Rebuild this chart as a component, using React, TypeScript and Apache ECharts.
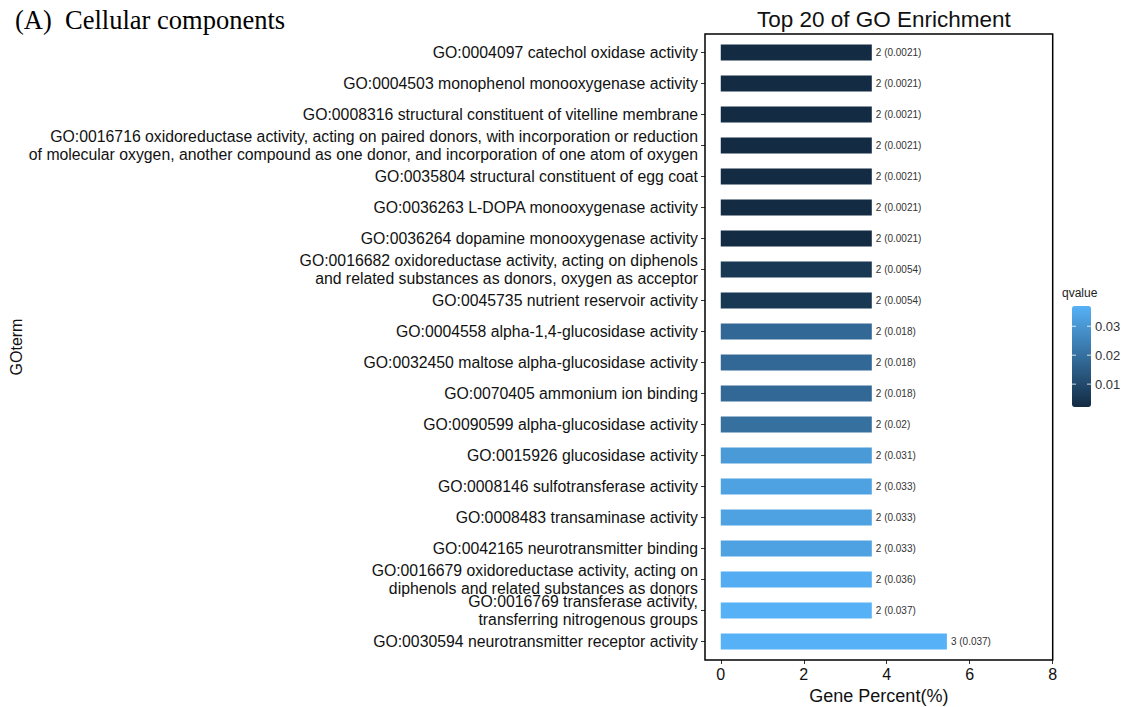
import React, { useEffect, useRef } from "react";
import * as echarts from "echarts";

// GO terms, top to bottom
const terms: string[] = [
  "GO:0004097 catechol oxidase activity",
  "GO:0004503 monophenol monooxygenase activity",
  "GO:0008316 structural constituent of vitelline membrane",
  "GO:0016716 oxidoreductase activity, acting on paired donors, with incorporation or reduction\nof molecular oxygen, another compound as one donor, and incorporation of one atom of oxygen",
  "GO:0035804 structural constituent of egg coat",
  "GO:0036263 L-DOPA monooxygenase activity",
  "GO:0036264 dopamine monooxygenase activity",
  "GO:0016682 oxidoreductase activity, acting on diphenols\nand related substances as donors, oxygen as acceptor",
  "GO:0045735 nutrient reservoir activity",
  "GO:0004558 alpha-1,4-glucosidase activity",
  "GO:0032450 maltose alpha-glucosidase activity",
  "GO:0070405 ammonium ion binding",
  "GO:0090599 alpha-glucosidase activity",
  "GO:0015926 glucosidase activity",
  "GO:0008146 sulfotransferase activity",
  "GO:0008483 transaminase activity",
  "GO:0042165 neurotransmitter binding",
  "GO:0016679 oxidoreductase activity, acting on\ndiphenols and related substances as donors",
  "GO:0016769 transferase activity,\ntransferring nitrogenous groups",
  "GO:0030594 neurotransmitter receptor activity",
];

// gene counts per term
const geneCounts: number[] = [2, 2, 2, 2, 2, 2, 2, 2, 2, 2, 2, 2, 2, 2, 2, 2, 2, 2, 2, 3];

// gene percent (bar length)
const genePercent: number[] = [
  3.64, 3.64, 3.64, 3.64, 3.64, 3.64, 3.64, 3.64, 3.64, 3.64,
  3.64, 3.64, 3.64, 3.64, 3.64, 3.64, 3.64, 3.64, 3.64, 5.45,
];

// q-values (bar fill)
const qvalues: number[] = [
  0.0021, 0.0021, 0.0021, 0.0021, 0.0021, 0.0021, 0.0021, 0.0054, 0.0054, 0.018,
  0.018, 0.018, 0.02, 0.031, 0.033, 0.033, 0.033, 0.036, 0.037, 0.037,
];

const xTicks: number[] = [0, 2, 4, 6, 8];
const qTicks: number[] = [0.01, 0.02, 0.03];

const SANS = "'Liberation Sans', Arial, Helvetica, sans-serif";
const SERIF = "'Liberation Serif', 'Times New Roman', serif";

export default function App() {
  const ref = useRef<HTMLDivElement>(null);

  useEffect(() => {
    if (!ref.current) return;
    const chart = echarts.init(ref.current, undefined, { renderer: "svg" });

    const qMin = Math.min(...qvalues);
    const qMax = Math.max(...qvalues);

    // colour bar geometry
    const barLeft = 1072;
    const barTop = 306;
    const barW = 19;
    const barH = 101;
    const qToY = (v: number) => barTop + barH * (1 - (v - qMin) / (qMax - qMin));

    // plot panel frame
    const panel = { x: 705, y: 34, w: 347.7, h: 626 };
    const band = panel.h / (terms.length + 0.2);

    const legendGraphics: any[] = [];
    legendGraphics.push({
      type: "text",
      x: 1062,
      y: 293,
      style: { text: "qvalue", fontSize: 12, fontFamily: SANS, fill: "#222", verticalAlign: "middle" },
    });
    qTicks.forEach((v) => {
      const y = qToY(v);
      legendGraphics.push({
        type: "text",
        x: 1095,
        y,
        style: { text: String(v), fontSize: 13, fontFamily: SANS, fill: "#333", verticalAlign: "middle" },
        z: 10,
      });
      legendGraphics.push({
        type: "line",
        shape: { x1: barLeft, y1: y, x2: barLeft + 4, y2: y },
        style: { stroke: "rgba(255,255,255,0.8)", lineWidth: 1 },
        z: 10,
      });
      legendGraphics.push({
        type: "line",
        shape: { x1: barLeft + barW - 4, y1: y, x2: barLeft + barW, y2: y },
        style: { stroke: "rgba(255,255,255,0.8)", lineWidth: 1 },
        z: 10,
      });
    });

    chart.setOption({
      animation: false,
      backgroundColor: "#ffffff",
      title: [
        {
          text: "Top 20 of GO Enrichment",
          left: panel.x + panel.w / 2,
          top: 3,
          textAlign: "center",
          textStyle: { fontFamily: SANS, fontSize: 22.5, fontWeight: "normal", color: "#111" },
        },
        {
          text: "(A)  Cellular components",
          left: 10,
          top: 1,
          textStyle: { fontFamily: SERIF, fontSize: 26.5, fontWeight: "normal", color: "#000" },
        },
      ],
      grid: {
        left: panel.x,
        right: 1128 - (panel.x + panel.w),
        top: panel.y + band * 0.1,
        bottom: 707 - (panel.y + panel.h - band * 0.1),
        outerBoundsMode: "none",
      },
      xAxis: {
        type: "value",
        min: -0.38,
        max: 8,
        offset: band * 0.1,
        name: "Gene Percent(%)",
        nameLocation: "middle",
        nameGap: 23,
        nameTextStyle: { fontFamily: SANS, fontSize: 18, color: "#111" },
        axisLine: { show: false, onZero: false },
        axisTick: { show: true, length: 4, customValues: xTicks, lineStyle: { color: "#333" } },
        axisLabel: { customValues: xTicks, fontFamily: SANS, fontSize: 16, color: "#111", margin: 6 },
        splitLine: { show: false },
      },
      yAxis: {
        type: "category",
        inverse: true,
        data: terms,
        name: "GOterm",
        nameLocation: "middle",
        nameRotate: 90,
        nameGap: 677,
        nameTextStyle: { fontFamily: SANS, fontSize: 16, color: "#111" },
        axisLine: { show: false, onZero: false },
        axisTick: { show: true, length: 4, alignWithLabel: true, lineStyle: { color: "#333" } },
        axisLabel: {
          interval: 0,
          fontFamily: SANS,
          fontSize: 15.8,
          lineHeight: 18,
          color: "#111",
          margin: 7,
        },
        splitLine: { show: false },
      },
      visualMap: {
        type: "continuous",
        min: qMin,
        max: qMax,
        dimension: 2,
        seriesIndex: 0,
        calculable: false,
        orient: "vertical",
        left: barLeft,
        top: barTop,
        padding: 0,
        itemWidth: barW,
        itemHeight: barH,
        inRange: { color: ["#132B43", "#56B1F7"] },
      },
      graphic: [
        {
          type: "rect",
          shape: { x: panel.x, y: panel.y, width: panel.w, height: panel.h },
          style: { fill: "none", stroke: "#000", lineWidth: 1.5 },
          z: 100,
        },
        ...legendGraphics,
      ],
      series: [
        {
          type: "bar",
          barWidth: 16,
          encode: { x: 0, y: 1 },
          data: genePercent.map((p, i) => ({ value: [p, i, qvalues[i]] })),
          label: {
            show: true,
            position: "right",
            distance: 4,
            fontFamily: SANS,
            fontSize: 10,
            color: "#333",
            formatter: (p: any) => `${geneCounts[p.dataIndex]} (${qvalues[p.dataIndex]})`,
          },
        },
      ],
    });

    return () => chart.dispose();
  }, []);

  return (
    <div
      ref={ref}
      style={{ position: "fixed", left: 0, top: 0, width: 1128, height: 707, background: "#fff" }}
    />
  );
}
